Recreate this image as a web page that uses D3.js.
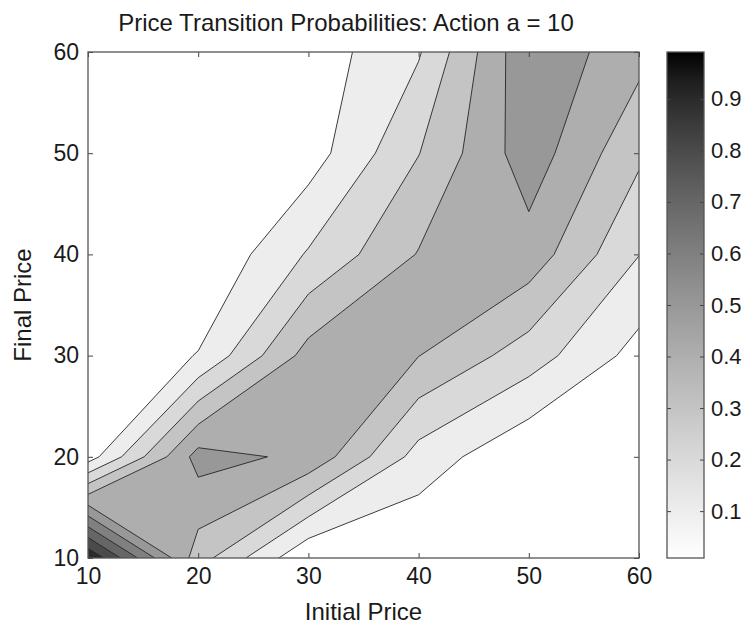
<!DOCTYPE html>
<html>
<head>
<meta charset="utf-8">
<script src="https://cdn.jsdelivr.net/npm/d3@7"></script>
<style>
  body { margin: 0; background: #fff; }
  text { font-family: "Liberation Sans", Arial, sans-serif; fill: #1a1a1a; }
</style>
</head>
<body>
<svg id="chart" width="752" height="628"></svg>
<script>
/*
  price transition probabilities for action a = 10,
  sampled on a 10 x 10 price grid (rows = final price, columns = initial price)
*/
var initialPrices = [10, 20, 30, 40, 50, 60];
var finalPrices = [10, 20, 30, 40, 50, 60];

// one array per final price, values for initial price 10 .. 60
var final10 = [0.99, 0.345, 0.01, 0.0, 0.0, 0.0];
var final20 = [0.051, 0.539, 0.477, 0.16, 0.01, 0.005];
var final30 = [0.0, 0.105, 0.44, 0.402, 0.25, 0.062];
var final40 = [0.0, 0.0, 0.21, 0.406, 0.459, 0.202];
var final50 = [0.0, 0.0, 0.05, 0.297, 0.556, 0.32];
var final60 = [0.0, 0.0, 0.04, 0.19, 0.582, 0.433];

var levels = [0.1, 0.2, 0.3, 0.4, 0.5, 0.6, 0.7, 0.8, 0.9];
var xTicks = [10, 20, 30, 40, 50, 60];
var yTicks = [10, 20, 30, 40, 50, 60];
var barTicks = [0.1, 0.2, 0.3, 0.4, 0.5, 0.6, 0.7, 0.8, 0.9];
var barRange = [0.009, 0.991];

/* ========================================================================== */

var svg = d3.select("#chart");

var x = d3.scaleLinear().domain([10, 60]).range([88, 639]);
var y = d3.scaleLinear().domain([10, 60]).range([558, 52]);

// printed grey ramp, a little lighter in the middle than a straight line
function gray(v) {
    var t = (v - barRange[0]) / (barRange[1] - barRange[0]);
    var g = Math.round(255 * Math.pow(1 - Math.max(0, Math.min(1, t)), 0.75));
    return d3.rgb(g, g, g).toString();
}

var rows = [final10, final20, final30, final40, final50, final60];
var nx = initialPrices.length;
var ny = finalPrices.length;
var values = [].concat.apply([], rows);
var negValues = values.map(function (v) { return -v; });

var step = initialPrices[1] - initialPrices[0];
var toPlot = d3.geoTransform({
    point: function (px, py) {
        this.stream.point(x(initialPrices[0] + (px - 0.5) * step),
                          y(finalPrices[0] + (py - 0.5) * step));
    }
});
var path = d3.geoPath(toPlot);

/*
  d3 always keeps the high corners of a saddle cell apart.
  matlab looks at the cell centre instead, so when the centre says
  the highs join, trace the low side and fill its complement.
*/
function joinsHighs (level) {
    var join = 0, split = 0;
    for (var j = 0; j < ny - 1; j++) {
        for (var i = 0; i < nx - 1; i++) {
            var a = rows[j][i], b = rows[j][i + 1], c = rows[j + 1][i + 1], d = rows[j + 1][i];
            var ha = a >= level, hb = b >= level, hc = c >= level, hd = d >= level;
            if (ha === hc && hb === hd && ha !== hb) {
                if ((a + b + c + d) / 4 >= level) join++; else split++;
            }
        }
    }
    return join > split;
}

var outer = "M" + x(-40) + "," + y(-40) + "H" + x(110) + "V" + y(110) + "H" + x(-40) + "Z";

var bands = levels.map(function (level) {
    if (joinsHighs(level)) {
        var low = d3.contours().size([nx, ny]).thresholds([-level])(negValues)[0];
        return { value: level, d: outer + (path(low) || ""), rule: "evenodd" };
    }
    var high = d3.contours().size([nx, ny]).thresholds([level])(values)[0];
    return { value: level, d: path(high) || "", rule: "nonzero" };
});

svg.append("clipPath").attr("id", "plot-clip")
    .append("rect")
    .attr("x", x(10)).attr("y", y(60))
    .attr("width", x(60) - x(10)).attr("height", y(10) - y(60));

var plot = svg.append("g").attr("clip-path", "url(#plot-clip)");

plot.append("rect")
    .attr("x", x(10)).attr("y", y(60))
    .attr("width", x(60) - x(10)).attr("height", y(10) - y(60))
    .attr("fill", gray(barRange[0]));

plot.selectAll("path.band")
    .data(bands)
    .enter().append("path")
    .attr("class", "band")
    .attr("d", function (d) { return d.d; })
    .attr("fill-rule", function (d) { return d.rule; })
    .attr("fill", function (d) { return gray(d.value); })
    .attr("stroke", "#262626")
    .attr("stroke-width", 0.9)
    .attr("stroke-linejoin", "round");

// axes: ticks point inward on all four sides
var tickLen = 5;
var axisFont = 23;

var axisB = svg.append("g").attr("transform", "translate(0," + y(10) + ")")
    .call(d3.axisBottom(x).tickValues(xTicks).tickSizeInner(-tickLen).tickSizeOuter(0).tickPadding(10));
var axisT = svg.append("g").attr("transform", "translate(0," + y(60) + ")")
    .call(d3.axisTop(x).tickValues(xTicks).tickSizeInner(-tickLen).tickSizeOuter(0).tickFormat(""));
var axisL = svg.append("g").attr("transform", "translate(" + x(10) + ",0)")
    .call(d3.axisLeft(y).tickValues(yTicks).tickSizeInner(-tickLen).tickSizeOuter(0).tickPadding(9));
var axisR = svg.append("g").attr("transform", "translate(" + x(60) + ",0)")
    .call(d3.axisRight(y).tickValues(yTicks).tickSizeInner(-tickLen).tickSizeOuter(0).tickFormat(""));

[axisB, axisT, axisL, axisR].forEach(function (g) {
    g.select(".domain").remove();
    g.selectAll(".tick line").attr("stroke", "#444").attr("stroke-width", 1);
    g.selectAll(".tick text").attr("font-size", axisFont).attr("fill", "#1a1a1a")
        .attr("font-family", "Liberation Sans, Arial, sans-serif");
});

svg.append("rect")
    .attr("x", x(10)).attr("y", y(60))
    .attr("width", x(60) - x(10)).attr("height", y(10) - y(60))
    .attr("fill", "none").attr("stroke", "#555").attr("stroke-width", 1.3);

// titles
svg.append("text")
    .attr("x", 346).attr("y", 31)
    .attr("text-anchor", "middle").attr("font-size", 24)
    .text("Price Transition Probabilities: Action a = 10");

svg.append("text")
    .attr("x", (x(10) + x(60)) / 2).attr("y", 620)
    .attr("text-anchor", "middle").attr("font-size", 24)
    .text("Initial Price");

svg.append("text")
    .attr("transform", "translate(31," + (y(10) + y(60)) / 2 + ") rotate(-90)")
    .attr("text-anchor", "middle").attr("font-size", 24)
    .text("Final Price");

/* ========================================================================== */
/* colorbar */

var cb = d3.scaleLinear().domain(barRange).range([558, 52]);
var cbX = 667, cbW = 37;

var grad = svg.append("defs").append("linearGradient")
    .attr("id", "cb-gradient")
    .attr("x1", "0").attr("y1", "1").attr("x2", "0").attr("y2", "0");
d3.range(0, 1.0001, 0.05).forEach(function (t) {
    grad.append("stop").attr("offset", t)
        .attr("stop-color", gray(barRange[0] + t * (barRange[1] - barRange[0])));
});

svg.append("rect")
    .attr("x", cbX).attr("y", cb(barRange[1]))
    .attr("width", cbW).attr("height", cb(barRange[0]) - cb(barRange[1]))
    .attr("fill", "url(#cb-gradient)");

var cbRight = svg.append("g").attr("transform", "translate(" + (cbX + cbW) + ",0)")
    .call(d3.axisRight(cb).tickValues(barTicks).tickSizeInner(-4).tickSizeOuter(0).tickPadding(7).tickFormat(d3.format(".1f")));
var cbLeft = svg.append("g").attr("transform", "translate(" + cbX + ",0)")
    .call(d3.axisLeft(cb).tickValues(barTicks).tickSizeInner(-4).tickSizeOuter(0).tickFormat(""));

[cbRight, cbLeft].forEach(function (g) {
    g.select(".domain").remove();
    g.selectAll(".tick line").attr("stroke", "#444");
    g.selectAll(".tick text").attr("font-size", 22).attr("fill", "#1a1a1a")
        .attr("font-family", "Liberation Sans, Arial, sans-serif");
});

svg.append("rect")
    .attr("x", cbX).attr("y", cb(barRange[1]))
    .attr("width", cbW).attr("height", cb(barRange[0]) - cb(barRange[1]))
    .attr("fill", "none").attr("stroke", "#555").attr("stroke-width", 1.3);
</script>
</body>
</html>
